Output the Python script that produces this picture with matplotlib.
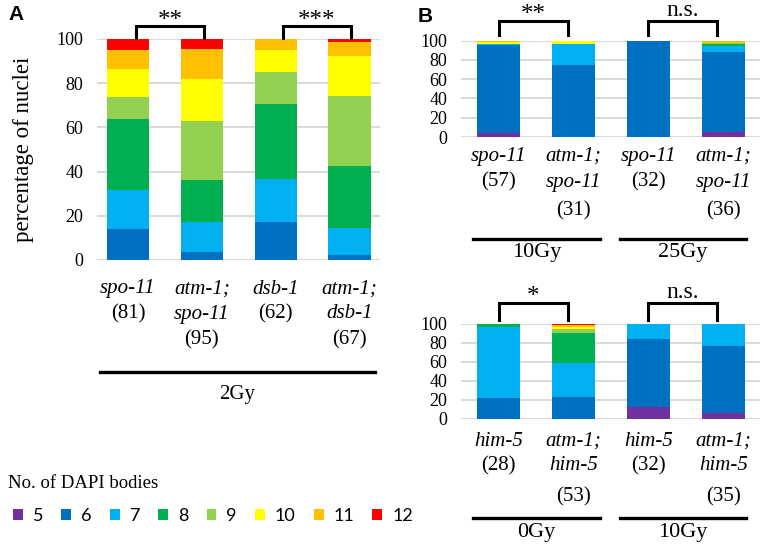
import matplotlib
matplotlib.use("Agg")
import matplotlib.pyplot as plt
import matplotlib.patches as mpatches
from matplotlib.lines import Line2D
import numpy as np

# ---------------- data ----------------
body_counts = ['5', '6', '7', '8', '9', '10', '11', '12']
colors = ['#7030A0', '#0070C0', '#00B0F0', '#00B050', '#92D050', '#FFFF00', '#FFC000', '#FF0000']

# Panel A (2Gy)
a_genotypes = ['spo-11', 'atm-1;\nspo-11', 'dsb-1', 'atm-1;\ndsb-1']
a_n = [81, 95, 62, 67]
a_spo11 = [0, 14.0, 17.5, 32.3, 10.0, 12.5, 8.7, 5.0]
a_atm_spo11 = [0, 3.5, 13.7, 19.0, 26.5, 19.2, 13.6, 4.5]
a_dsb1 = [0, 17.0, 19.5, 34.1, 14.6, 9.8, 5.0, 0]
a_atm_dsb1 = [0, 2.3, 12.0, 28.4, 31.5, 18.1, 6.2, 1.5]
a_signif = ['**', '***']
a_dose = '2Gy'

# Panel B top (spo-11 10Gy / 25Gy)
bt_genotypes = ['spo-11', 'atm-1;\nspo-11', 'spo-11', 'atm-1;\nspo-11']
bt_n = [57, 31, 32, 36]
bt_spo11_10 = [4.5, 91.5, 1.0, 0, 0, 1.5, 1.5, 0]
bt_atm_spo11_10 = [0, 74.7, 22.2, 0, 0, 3.1, 0, 0]
bt_spo11_25 = [0, 100.0, 0, 0, 0, 0, 0, 0]
bt_atm_spo11_25 = [5.6, 83.0, 5.6, 2.0, 1.0, 0, 2.8, 0]
bt_signif = ['**', 'n.s.']
bt_doses = ['10Gy', '25Gy']

# Panel B bottom (him-5 0Gy / 10Gy)
bb_genotypes = ['him-5', 'atm-1;\nhim-5', 'him-5', 'atm-1;\nhim-5']
bb_n = [28, 53, 32, 35]
bb_him5_0 = [0, 21.8, 74.3, 3.9, 0, 0, 0, 0]
bb_atm_him5_0 = [0, 22.5, 36.4, 30.9, 4.2, 2.8, 1.4, 1.8]
bb_him5_10 = [12.3, 71.9, 15.8, 0, 0, 0, 0, 0]
bb_atm_him5_10 = [5.6, 70.9, 23.5, 0, 0, 0, 0, 0]
bb_signif = ['*', 'n.s.']
bb_doses = ['0Gy', '10Gy']

# ---------------- figure ----------------
W, H = 762, 549
fig = plt.figure(figsize=(W / 100, H / 100), dpi=100)
SERIF = ['Liberation Serif', 'DejaVu Serif']
SANS = ['Liberation Sans', 'DejaVu Sans']


def fx(px):
    return px / W


def fy(py):
    return 1 - py / H


def axes_px(l, t, r, b):
    return fig.add_axes([fx(l), fy(b), fx(r) - fx(l), (b - t) / H])


def stacked(ax, bars, width, xlim):
    data = np.array(bars).T  # rows = body counts
    x = np.arange(len(bars))
    bottom = np.zeros(len(bars))
    for i, row in enumerate(data):
        ax.bar(x, row, width, bottom=bottom, color=colors[i], edgecolor='none', zorder=3)
        bottom += row
    ax.set_xlim(*xlim)
    ax.set_ylim(0, 100)
    ax.set_yticks(np.arange(0, 101, 20))
    ax.yaxis.grid(True, color='#D9D9D9', linewidth=1.4, zorder=0)
    ax.set_axisbelow(True)
    for s in ax.spines.values():
        s.set_visible(False)
    ax.set_xticks([])
    ax.tick_params(axis='y', length=0, pad=10, labelsize=13)
    for lab in ax.get_yticklabels():
        lab.set_family(SERIF)
    return x


def bracket(x0, x1, ytop, ybot, text, ty, fs):
    fig.add_artist(Line2D([fx(x0), fx(x0), fx(x1), fx(x1)],
                          [fy(ybot), fy(ytop), fy(ytop), fy(ybot)],
                          color='black', lw=2.2, solid_joinstyle='miter'))
    # asterisks sit high in their text box: shift the box down to centre the glyphs
    off = 6 if '*' in text else 0
    fig.text(fx((x0 + x1) / 2), fy(ty + off), text, ha='center', va='center',
             fontsize=fs, family=SERIF)


def labels(ax, genos, ns, ys):
    tr = matplotlib.transforms.blended_transform_factory(ax.transData, fig.transFigure)
    for i, (g, n) in enumerate(zip(genos, ns)):
        parts = g.split('\n')
        lines = [(p, 'italic') for p in parts] + [('(%d)' % n, 'normal')]
        for j, (t, st) in enumerate(lines):
            ax.text(i, fy(ys[j]), t, transform=tr,
                    ha='center', va='center', fontsize=15, style=st, family=SERIF)


def group_line(x0, x1, y, text, ty, fs):
    fig.add_artist(Line2D([fx(x0), fx(x1)], [fy(y), fy(y)], color='black', lw=2.4))
    fig.text(fx((x0 + x1) / 2), fy(ty), text, ha='center', va='center',
             fontsize=fs, family=SERIF)


# Panel A
axA = axes_px(97, 39, 380, 260)
stacked(axA, [a_spo11, a_atm_spo11, a_dsb1, a_atm_dsb1], 0.576, (-0.42, 3.41))
axA.set_ylabel('percentage of nuclei', fontsize=16.5, family=SERIF, labelpad=16)
labels(axA, a_genotypes, a_n, [289, 314, 340])
group_line(100, 375, 372, a_dose, 394, 15)
bracket(136, 204, 25.7, 38, a_signif[0], 15, 18)
bracket(283, 351, 25.7, 38, a_signif[1], 15, 18)
fig.text(fx(8), fy(15), 'A', fontsize=15, fontweight='bold', family=SANS, va='center')

# Panel B top
axBt = axes_px(461, 40.7, 760, 137)
stacked(axBt, [bt_spo11_10, bt_atm_spo11_10, bt_spo11_25, bt_atm_spo11_25], 0.57, (-0.497, 3.49))
labels(axBt, bt_genotypes, bt_n, [156, 182, 211])
group_line(473, 600, 239, bt_doses[0], 253, 16)
group_line(620, 746, 239, bt_doses[1], 253, 16)
bracket(499, 568, 21, 35, bt_signif[0], 9, 18)
bracket(648, 717, 21, 35, bt_signif[1], 10, 17)
fig.text(fx(418), fy(17), 'B', fontsize=15, fontweight='bold', family=SANS, va='center')

# Panel B bottom
axBb = axes_px(461, 323.7, 760, 418.7)
stacked(axBb, [bb_him5_0, bb_atm_him5_0, bb_him5_10, bb_atm_him5_10], 0.57, (-0.497, 3.49))
labels(axBb, bb_genotypes, bb_n, [441, 466, 497])
group_line(473, 600, 518, bb_doses[0], 533, 16)
group_line(620, 746, 518, bb_doses[1], 533, 16)
bracket(499, 568, 303, 320, bb_signif[0], 291, 18)
bracket(648, 717, 303, 320, bb_signif[1], 292, 17)

# Legend
fig.text(fx(8), fy(484), 'No. of DAPI bodies', fontsize=13.5, family=SERIF, va='center')
handles = [mpatches.Patch(facecolor=c, edgecolor='none') for c in colors]
leg = fig.legend(handles, body_counts, loc='center left', bbox_to_anchor=(fx(13), fy(516)),
                 ncol=8, frameon=False, handlelength=0.55, handleheight=0.55,
                 handletextpad=0.55, columnspacing=1.0, borderaxespad=0, borderpad=0,
                 prop={'family': 'Lato', 'size': 13})

fig.savefig('out.png', dpi=100)
